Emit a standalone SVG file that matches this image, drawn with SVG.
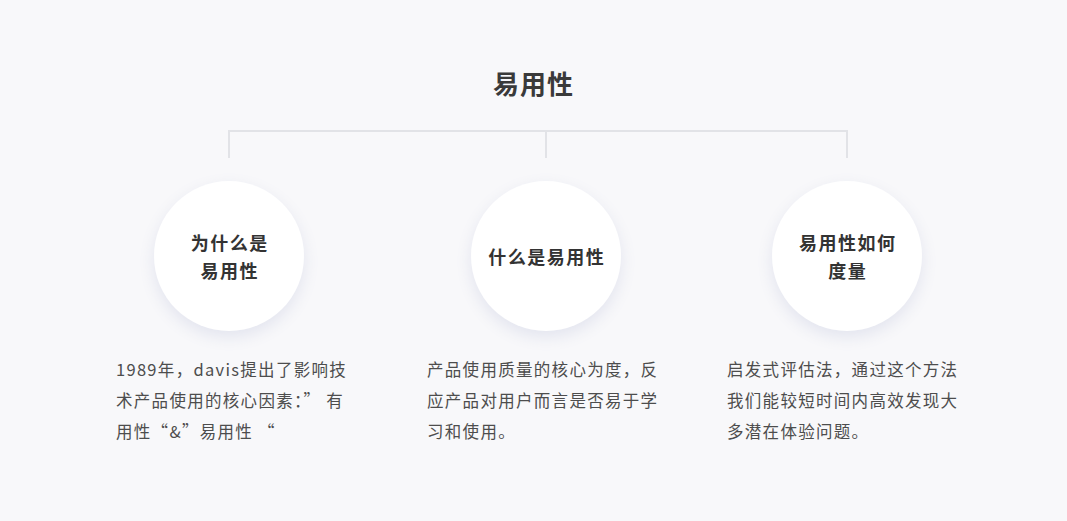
<svg xmlns="http://www.w3.org/2000/svg" width="1067" height="521" viewBox="0 0 1067 521">
<style>
.title{font-family:"Noto Sans CJK SC","Noto Sans",sans-serif;font-size:26px;font-weight:700;fill:#3a3a3a;text-anchor:middle;letter-spacing:1px}
.node circle{fill:#ffffff;filter:url(#sh)}
.nt{font-family:"Noto Sans CJK SC","Noto Sans",sans-serif;font-size:18px;font-weight:700;fill:#333333;text-anchor:middle;letter-spacing:1.5px}
.desc{font-family:"Noto Sans CJK SC","Noto Sans",sans-serif;font-size:16.5px;fill:#4d4d4d;letter-spacing:1.3px}
.conn{stroke:#e2e3e7;stroke-width:2;fill:none}
</style>
<defs>
<filter id="sh" x="-30%" y="-30%" width="160%" height="160%">
<feDropShadow dx="0" dy="6" stdDeviation="8" flood-color="#c8cbe0" flood-opacity="0.45"/>
</filter>
</defs>
<rect width="1067" height="521" fill="#f8f8fa"/>
<text class="title" x="533.5" y="94">易用性</text>
<g id="connectors">
<path class="conn" d="M229 158 V131 H847 V158"/>
<path class="conn" d="M546 131 V158"/>
</g>
<g id="node1" class="node">
<circle cx="229" cy="256" r="75"/>
<text class="nt" x="229.75" y="250">为什么是</text>
<text class="nt" x="229.75" y="278">易用性</text>
</g>
<g id="node2" class="node">
<circle cx="546" cy="256" r="75"/>
<text class="nt" x="546.75" y="264">什么是易用性</text>
</g>
<g id="node3" class="node">
<circle cx="847" cy="256" r="75"/>
<text class="nt" x="847.75" y="250">易用性如何</text>
<text class="nt" x="847.75" y="278">度量</text>
</g>
<g id="desc1">
<text class="desc" x="116" y="376">1989年，davis提出了影响技</text>
<text class="desc" x="116" y="407">术产品使用的核心因素：” 有</text>
<text class="desc" x="116" y="438">用性“&amp;”易用性 “</text>
</g>
<g id="desc2">
<text class="desc" x="427" y="376">产品使用质量的核心为度，反</text>
<text class="desc" x="427" y="407">应产品对用户而言是否易于学</text>
<text class="desc" x="427" y="438">习和使用。</text>
</g>
<g id="desc3">
<text class="desc" x="727" y="376">启发式评估法，通过这个方法</text>
<text class="desc" x="727" y="407">我们能较短时间内高效发现大</text>
<text class="desc" x="727" y="438">多潜在体验问题。</text>
</g>
</svg>
